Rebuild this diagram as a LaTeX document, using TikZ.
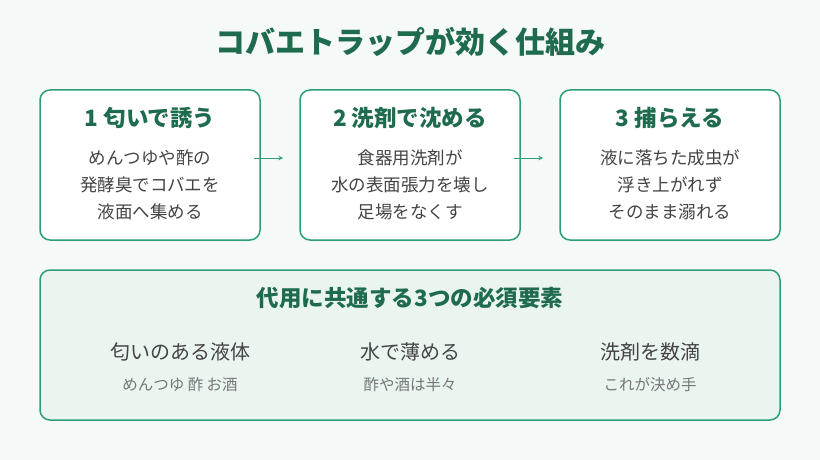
\documentclass[tikz,border=0pt]{standalone}
\usepackage{fontspec}
\setmainfont{Noto Sans CJK JP}
\usetikzlibrary{positioning}
\definecolor{bgc}{HTML}{F5F9F8}
\definecolor{edgec}{HTML}{2E9E78}
\definecolor{titlec}{HTML}{1F6B4E}
\definecolor{panelc}{HTML}{EAF5F0}
\definecolor{textc}{HTML}{444444}
\definecolor{subc}{HTML}{777777}
\tikzset{
  stage/.style={draw=edgec, line width=1.5pt, rounded corners=10pt, fill=white,
    minimum width=220pt, minimum height=150pt},
  head/.style={text=titlec, font=\fontsize{22.5}{26}\selectfont\bfseries},
  body/.style={text=textc, align=center, font=\fontsize{17.5}{27}\selectfont},
  item/.style={text=textc, font=\fontsize{20}{24}\selectfont},
  sub/.style={text=subc, font=\fontsize{15.5}{18}\selectfont},
  flow/.style={->, >=stealth, draw=edgec, line width=1pt}
}
\begin{document}
\begin{tikzpicture}[x=1pt, y=-1pt]
  \fill[bgc] (0,0) rectangle (820,460);
  \useasboundingbox (0,0) rectangle (820,460);
  \node[text=titlec, font=\fontsize{30}{34}\selectfont\bfseries] (title) at (410,42) {コバエトラップが効く仕組み};

  \node[stage] (lure) at (150,165) {};
  \node[stage] (sink) at (410,165) {};
  \node[stage] (trap) at (670,165) {};
  \node[head] (lureh) at (150,118) {1 匂いで誘う};
  \node[head] (sinkh) at (410,118) {2 洗剤で沈める};
  \node[head] (traph) at (670,118) {3 捕らえる};
  \node[body] (lureb) at (150,185) {めんつゆや酢の\\発酵臭でコバエを\\液面へ集める};
  \node[body] (sinkb) at (410,185) {食器用洗剤が\\水の表面張力を壊し\\足場をなくす};
  \node[body] (trapb) at (670,185) {液に落ちた成虫が\\浮き上がれず\\そのまま溺れる};
  \coordinate (a1) at (254,158);
  \coordinate (a2) at (283,158);
  \coordinate (b1) at (514,158);
  \coordinate (b2) at (543,158);
  \draw[flow] (a1) -- (a2);
  \draw[flow] (b1) -- (b2);

  % needs panel
  \node[draw=edgec, line width=1.5pt, rounded corners=10pt, fill=panelc,
    minimum width=740pt, minimum height=150pt] (needs) at (410,345) {};
  \node[head] (needsh) at (410,298) {代用に共通する3つの必須要素};
  \node[item] (liq) at (180,352) {匂いのある液体};
  \node[item] (wat) at (410,352) {水で薄める};
  \node[item] (det) at (650,352) {洗剤を数滴};
  \node[sub] (liqs) at (180,385) {めんつゆ 酢 お酒};
  \node[sub] (wats) at (410,385) {酢や酒は半々};
  \node[sub] (dets) at (650,385) {これが決め手};
\end{tikzpicture}
\end{document}
